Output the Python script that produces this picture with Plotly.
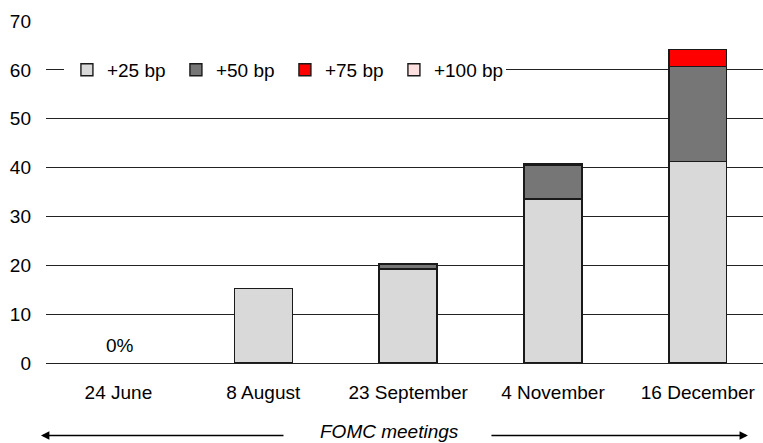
import plotly.graph_objects as go

# FOMC meeting dates and implied probability of each hike size (%)
meetings = ["24 June", "8 August", "23 September", "4 November", "16 December"]
hike_25 = [0.0, 15.2, 19.2, 33.6, 41.2]
hike_50 = [0.0, 0.0, 1.1, 6.9, 19.5]
hike_75 = [0.0, 0.0, 0.0, 0.3, 3.5]
hike_100 = [0.0, 0.0, 0.0, 0.0, 0.0]

series = [
    ("+25 bp", hike_25, "#d9d9d9"),
    ("+50 bp", hike_50, "#767676"),
    ("+75 bp", hike_75, "#ff0000"),
    ("+100 bp", hike_100, "#ffe0e0"),
]

font_family = "Liberation Sans, Arial, sans-serif"

fig = go.Figure()
for name, vals, color in series:
    # zero-probability segments are left out so no empty outline is drawn
    fig.add_trace(go.Bar(
        x=meetings, y=[v if v > 0 else None for v in vals], name=name,
        width=0.4,
        marker=dict(color=color, line=dict(color="#1a1a1a", width=1.4)),
    ))

# Label meetings with no priced-in hike
totals = [a + b + c + d for a, b, c, d in zip(hike_25, hike_50, hike_75, hike_100)]
for m, t in zip(meetings, totals):
    if t == 0:
        fig.add_annotation(x=m, y=t, text=f"{t:.0f}%", showarrow=False,
                           xshift=2, yanchor="bottom", yshift=5,
                           font=dict(size=19, color="#000"))

# Axis caption with arrows on both sides
fig.add_annotation(x=0.479, y=-0.200, xref="paper", yref="paper",
                   xanchor="center", yanchor="middle",
                   text="<i>FOMC meetings</i>", showarrow=False,
                   font=dict(size=19, color="#000"))
fig.add_annotation(x=-0.007, y=-0.212, xref="paper", yref="paper",
                   ax=244, ay=0, axref="pixel", ayref="pixel", text="",
                   showarrow=True, arrowhead=2, arrowsize=1.2, arrowwidth=1.4,
                   arrowcolor="#000")
fig.add_annotation(x=0.979, y=-0.212, xref="paper", yref="paper",
                   ax=-258, ay=0, axref="pixel", ayref="pixel", text="",
                   showarrow=True, arrowhead=2, arrowsize=1.2, arrowwidth=1.4,
                   arrowcolor="#000")

fig.update_layout(
    width=763, height=443,
    barmode="stack",
    paper_bgcolor="white", plot_bgcolor="white",
    margin=dict(l=46, r=0, t=21, b=80),
    font=dict(family=font_family, size=19, color="#000"),
    showlegend=True,
    legend=dict(orientation="h", x=0.025, xanchor="left",
                y=60 / 70, yanchor="middle", bgcolor="white",
                bordercolor="white", borderwidth=3,
                font=dict(size=19), traceorder="normal",
                entrywidth=64, entrywidthmode="pixels",
                itemclick=False),
    xaxis=dict(range=[-0.5, 4.45], showgrid=False, showline=False,
               ticks="", ticklabelstandoff=16, tickfont=dict(size=19)),
    yaxis=dict(range=[0, 70], dtick=10, showgrid=True, gridcolor="#222222",
               gridwidth=1.4, zeroline=True, zerolinecolor="#222222",
               zerolinewidth=1.4, showline=False, ticks="",
               ticklabelstandoff=14, tickfont=dict(size=19)),
)

fig.write_html("out.html")
